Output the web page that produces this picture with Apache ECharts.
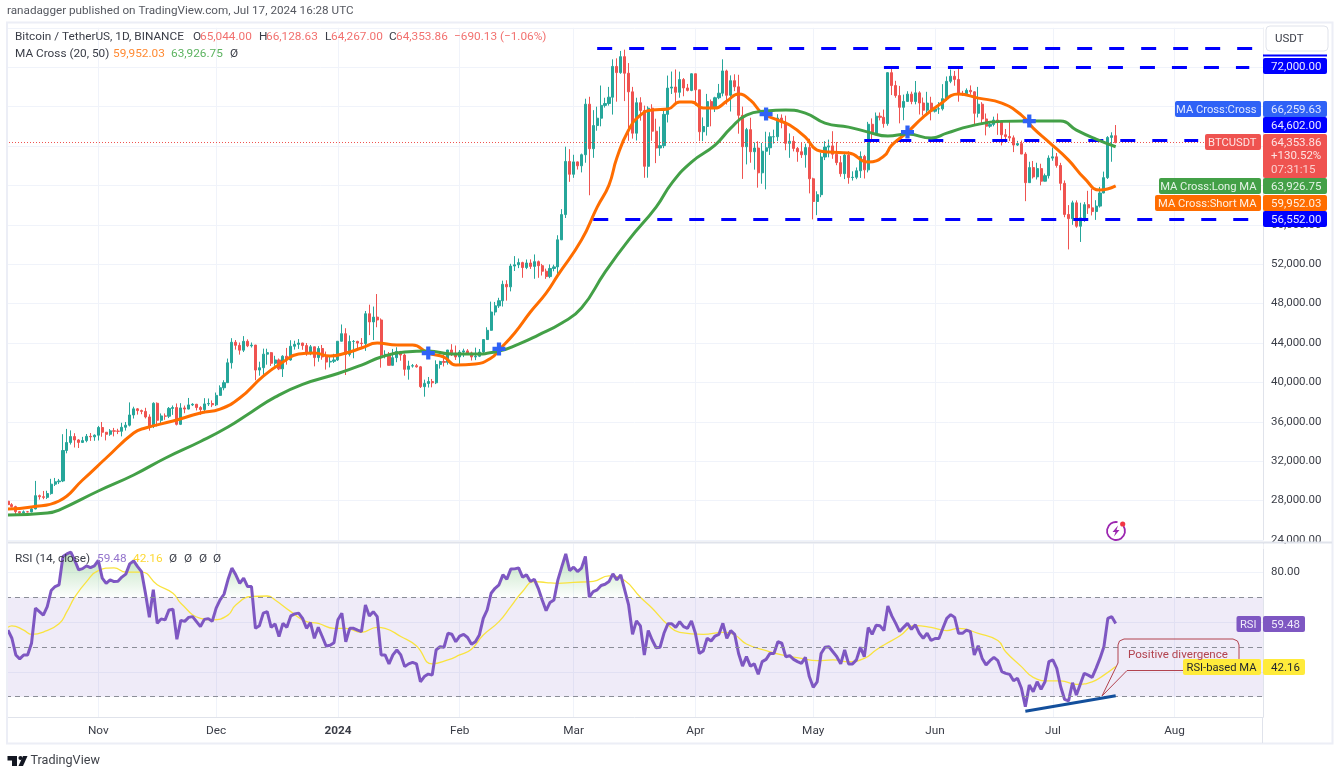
<!DOCTYPE html>
<html lang="en">
<head>
<meta charset="UTF-8">
<title>Bitcoin / TetherUS, 1D, BINANCE</title>
<script src="https://cdn.jsdelivr.net/npm/echarts@6/dist/echarts.min.js"></script>
<style>
html, body { margin: 0; padding: 0; background: #fff; }
#chart { width: 1341px; height: 774px; }
</style>
</head>
<body>
<div id="chart"></div>
<script>
// month labels on the time axis
var monthTicks = {
    '2023-11-01': 'Nov', '2023-12-01': 'Dec', '2024-01-01': '2024', '2024-02-01': 'Feb',
    '2024-03-01': 'Mar', '2024-04-01': 'Apr', '2024-05-01': 'May', '2024-06-01': 'Jun',
    '2024-07-01': 'Jul', '2024-08-01': 'Aug'
};

// daily candles, 2023-10-09 to 2024-07-17
var candleOpen = [
    27935, 27590, 27390, 26875, 26759, 26862, 26852, 27154, 28500, 28395, 28328, 28713, 29669, 29909, 29992, 33086, 33901, 34502, 34156, 33909, 34089, 34525, 34474,
    34639, 35421, 34941, 34732, 35082, 35049, 35037, 35443, 35655, 36693, 37313, 37138, 37054, 36491, 35548, 37880, 36154, 36596, 36568, 37359, 37448, 35741, 37408, 37294, 37713, 37780, 37447, 37242, 37818, 37854,
    37723, 38682, 39457, 39972, 41991, 44073, 43762, 43273, 44171, 43713, 43789, 41253, 41492, 42869, 43022, 41941, 42278, 41374, 42657, 42275, 43668, 43861, 43997, 43739, 43016, 43613, 42520, 43442, 42581, 42066, 42140,
    42283, 44179, 44946, 42845, 44151, 44162, 43989, 43943, 46970, 46139, 46627, 46339, 42782, 42847, 41732, 42511, 43137, 42776, 41327, 41659, 41696, 41580, 39568, 39897, 40084, 39961, 41816, 42120, 42035, 43288, 42952,
    42582, 43082, 43200, 42990, 42583, 42658, 43084, 44349, 45288, 47147, 47771, 48293, 49958, 49699, 51811, 51938, 52160, 51663, 52122, 51779, 52258, 51849, 51287, 50744, 51568, 51728, 54476, 57037, 62432,
    61130, 62387, 61987, 63113, 68245, 63724, 66074, 66823, 68124, 68313, 68955, 72078, 71452, 73072, 71388, 69499, 65300, 68393, 67609, 61937, 67840, 65501, 63796, 64037, 67211, 69880, 69988, 69455, 70744, 69892, 69645,
    71333, 69702, 65446, 65980, 68508, 67837, 68896, 69360, 71620, 69146, 70631, 70006, 67116, 63924, 65661, 63419, 63793, 61277, 63470, 63818, 64941, 64941, 66837, 66407, 64276, 64481, 63755, 63419, 63113, 63841,
    60672, 58364, 59060, 62882, 63892, 64012, 63165, 62312, 61193, 63074, 60799, 60825, 61483, 62940, 61577, 66206, 65235, 67024, 66915, 66274, 71446, 70136, 69122, 67929, 68526, 69265, 68518, 69394, 68366, 67635, 68354,
    67530, 67760, 67773, 68804, 70567, 71082, 70757, 69342, 69305, 69648, 69500, 67321, 68243, 66747, 66011, 66191, 66639, 66490, 65140, 64960, 64828, 64096, 64245, 63180, 60277, 61806, 60864, 61706, 60427, 60986,
    62772, 62900, 62023, 60208, 57050, 56628, 58230, 55857, 56700, 58047, 57719, 57344, 57899, 59231, 60787, 64870, 65044
];
var candleClose = [
    27590, 27390, 26875, 26759, 26862, 26852, 27154, 28500, 28395, 28328, 28713, 29669, 29909, 29992, 33086, 33901, 34502, 34156, 33909, 34089, 34525, 34474, 34639,
    35421, 34941, 34732, 35082, 35049, 35037, 35443, 35655, 36693, 37313, 37138, 37054, 36491, 35548, 37880, 36154, 36596, 36568, 37359, 37448, 35741, 37408, 37294, 37713, 37780, 37447, 37242, 37818, 37854, 37723,
    38682, 39457, 39972, 41991, 44073, 43762, 43273, 44171, 43713, 43789, 41253, 41492, 42869, 43022, 41941, 42278, 41374, 42657, 42275, 43668, 43861, 43997, 43739, 43016, 43613, 42520, 43442, 42581, 42066, 42140, 42283,
    44179, 44946, 42845, 44151, 44162, 43989, 43943, 46970, 46139, 46627, 46339, 42782, 42847, 41732, 42511, 43137, 42776, 41327, 41659, 41696, 41580, 39568, 39897, 40084, 39961, 41816, 42120, 42035, 43288, 42952, 42582,
    43082, 43200, 42990, 42583, 42658, 43084, 44349, 45288, 47147, 47771, 48293, 49958, 49699, 51811, 51938, 52160, 51663, 52122, 51779, 52258, 51849, 51287, 50744, 51568, 51728, 54476, 57037, 62432, 61130,
    62387, 61987, 63113, 68245, 63724, 66074, 66823, 68124, 68313, 68955, 72078, 71452, 73072, 71388, 69499, 65300, 68393, 67609, 61937, 67840, 65501, 63796, 64037, 67211, 69880, 69988, 69455, 70744, 69892, 69645, 71333,
    69702, 65446, 65980, 68508, 67837, 68896, 69360, 71620, 69146, 70631, 70006, 67116, 63924, 65661, 63419, 63793, 61277, 63470, 63818, 64941, 64941, 66837, 66407, 64276, 64481, 63755, 63419, 63113, 63841, 60672,
    58364, 59060, 62882, 63892, 64012, 63165, 62312, 61193, 63074, 60799, 60825, 61483, 62940, 61577, 66206, 65235, 67024, 66915, 66274, 71446, 70136, 69122, 67929, 68526, 69265, 68518, 69394, 68366, 67635, 68354, 67530,
    67760, 67773, 68804, 70567, 71082, 70757, 69342, 69305, 69648, 69500, 67321, 68243, 66747, 66011, 66191, 66639, 66490, 65140, 64960, 64828, 64096, 64245, 63180, 60277, 61806, 60864, 61706, 60427, 60986, 62772,
    62900, 62023, 60208, 57050, 56628, 58230, 55857, 56700, 58047, 57719, 57344, 57899, 59231, 60787, 64870, 65044, 64353.86
];
var candleHigh = [
    27990, 27740, 27480, 26950, 27000, 26950, 27290, 30000, 28610, 28980, 29000, 30210, 30300, 30200, 34740, 35280, 35130, 34840, 34240, 34470, 34760, 34860, 34720,
    35580, 35980, 34940, 35260, 35380, 35290, 35900, 35980, 37970, 37530, 37400, 37240, 37420, 36760, 37980, 37970, 36850, 36850, 37500, 37660, 37860, 37890, 37650, 38420, 37890, 37820, 37590, 38400, 38370, 38170,
    38970, 39700, 40220, 42420, 44490, 44300, 44050, 44700, 44370, 44050, 43810, 42100, 43430, 43420, 43090, 42700, 42430, 42760, 43500, 44280, 44230, 44400, 44020, 44000, 43800, 43620, 43680, 43800, 43130, 42610, 42900,
    44190, 45880, 45500, 44770, 44300, 44230, 44500, 47250, 47890, 47700, 48970, 46500, 43260, 43080, 43400, 43570, 43200, 42930, 42200, 41870, 41870, 41670, 40280, 40550, 40350, 42240, 42200, 42840, 43300, 43880, 43740,
    43290, 43420, 43380, 43120, 43530, 43390, 44370, 45600, 48200, 48170, 48590, 50330, 50370, 52040, 52820, 52580, 52250, 52480, 52490, 52990, 52370, 52030, 51550, 51980, 51950, 54940, 57590, 63930, 63680,
    63110, 62430, 63230, 68800, 69000, 67640, 67990, 70140, 68900, 70000, 72800, 72900, 73650, 73780, 72420, 70000, 68900, 68950, 68100, 68030, 68240, 66770, 65970, 67620, 71150, 71560, 71770, 71550, 70900, 70300, 71370,
    71340, 69700, 66900, 69290, 68720, 69000, 70300, 72800, 71750, 71170, 71280, 71230, 68000, 65840, 66870, 64360, 64480, 64300, 65450, 65390, 65660, 67230, 67210, 67080, 65280, 65000, 63900, 64350, 64230, 64730,
    60780, 59400, 63320, 64490, 64650, 65500, 64400, 62990, 63400, 63470, 61430, 61820, 63450, 63100, 66450, 66800, 67400, 67400, 67700, 71500, 71980, 70620, 70100, 69220, 69560, 69520, 70600, 69560, 68920, 69500, 69000,
    67860, 68450, 70280, 71060, 71760, 71620, 71970, 69600, 69850, 70150, 69560, 70000, 68450, 67300, 66450, 66980, 67300, 66500, 65730, 66480, 65070, 64520, 64550, 63370, 62400, 62480, 62300, 62200, 61200, 63050,
    63850, 63290, 62290, 60500, 58000, 58450, 58480, 58240, 58300, 59450, 59650, 58500, 59850, 61400, 65000, 65390, 66128.63
];
var candleLow = [
    27260, 27300, 26560, 26560, 26650, 26810, 26810, 27115, 28100, 28140, 28170, 28600, 29480, 29680, 29880, 32800, 33690, 33390, 33340, 33850, 33920, 34060, 34070,
    34100, 34480, 34110, 34580, 34520, 34750, 34520, 35110, 35530, 36330, 36730, 36770, 36340, 35100, 35360, 35530, 35880, 36200, 36380, 36700, 35630, 35670, 36870, 37260, 37600, 37150, 36710, 36870, 37610, 37490,
    37600, 38650, 39200, 39980, 41400, 43330, 42820, 43080, 43580, 43540, 40220, 40680, 40650, 41800, 41670, 41690, 41250, 40550, 41800, 42200, 43330, 43400, 43310, 42700, 42760, 41630, 42100, 42300, 41300, 41520, 41970,
    42180, 44150, 40750, 42630, 42450, 43440, 43620, 43200, 44800, 44300, 45600, 41500, 42440, 41720, 41720, 42050, 42200, 40680, 40280, 41500, 41500, 39430, 38550, 39480, 39500, 39830, 41400, 41620, 41800, 42680, 42280,
    41880, 42570, 42880, 42220, 42260, 42570, 42790, 44330, 45250, 46800, 47560, 47700, 48300, 49240, 51310, 51600, 50620, 51500, 51520, 50520, 50620, 50850, 50510, 50580, 51280, 50900, 54450, 56690, 60360,
    60770, 61610, 61320, 62300, 59000, 62800, 65550, 66000, 67900, 68100, 67190, 68500, 71330, 68560, 64530, 64750, 64560, 66570, 60770, 60780, 64530, 62260, 63000, 63780, 66390, 69280, 68370, 68900, 69050, 69540, 69560,
    68100, 64500, 64500, 65060, 66000, 67450, 68750, 69040, 68210, 67500, 69570, 65250, 60660, 62130, 62300, 61600, 59770, 60170, 59600, 63090, 64240, 64500, 65800, 63570, 62800, 63450, 62400, 62790, 61800, 59190,
    56550, 56980, 58800, 62570, 62850, 62700, 62050, 60880, 60640, 60170, 60490, 60630, 60760, 60700, 61320, 64600, 65100, 66600, 65860, 66060, 69170, 68900, 66300, 66620, 68500, 68240, 68230, 67200, 67100, 67120, 66600,
    67400, 67260, 67600, 68580, 70380, 70120, 68500, 69100, 69150, 69220, 66050, 66900, 66300, 65080, 65850, 66000, 65130, 64060, 64680, 64500, 63380, 64000, 63200, 58400, 60260, 60700, 60600, 60000, 60400, 60700,
    62500, 61800, 59500, 56770, 53500, 56000, 55700, 54260, 56300, 57100, 56950, 56500, 57750, 59200, 60650, 62400, 64267
];

// moving averages: day number (0 = 2023-10-09) and price
var shortMaDays = [0, 6, 13, 19, 25, 32, 35, 42, 49, 54, 59, 65, 70, 74, 78, 82, 86, 90, 94, 99, 103, 107, 111, 114, 119, 123, 125, 129, 133, 137, 140, 146, 150, 153, 155, 158, 161, 164, 168, 171, 174, 177, 180, 183, 186, 189, 192, 196, 199, 203, 206, 209, 214, 219, 223, 225, 229, 233, 237, 242, 247, 253, 258, 261, 265, 270, 274, 278, 282];
var shortMaValues = [27147, 27350, 27958, 30090, 32323, 34860, 35368, 36078, 36890, 37296, 38413, 40646, 42067, 42879, 42980, 42676, 42980, 43488, 43995, 43792, 43792, 42980, 42574, 41762, 41864, 42473, 43285, 45010, 47142, 49070, 50897, 54450, 57800, 60032, 62773, 65615, 67137, 67645, 67746, 68457, 68457, 67848, 67848, 68558, 69269, 68660, 67340, 66630, 66122, 64904, 63585, 63382, 63280, 62367, 62976, 64092, 65412, 66934, 68152, 69269, 68863, 68355, 67137, 65818, 64397, 62570, 60743, 59525, 59952.03];
var longMaDays = [0, 10, 13, 23, 32, 40, 49, 56, 62, 68, 75, 84, 90, 95, 101, 107, 113, 118, 125, 130, 135, 141, 146, 152, 158, 165, 169, 174, 180, 184, 188, 193, 198, 203, 208, 214, 219, 224, 229, 235, 239, 245, 253, 259, 268, 272, 277, 282];
var longMaValues = [26537, 26740, 27045, 28973, 30600, 32300, 34000, 35469, 37000, 38500, 39800, 40900, 41762, 42574, 43082, 43183, 42879, 42879, 43183, 43894, 44807, 46025, 47548, 51202, 54450, 57800, 60235, 62367, 64092, 65818, 67137, 67543, 67645, 67340, 66325, 65919, 65412, 65006, 65209, 64803, 65310, 66021, 66500, 66528, 66528, 65615, 64701, 63926.75];
var crossDays = [107, 125, 193, 229, 260];
var crossValues = [42980, 43400, 67240, 65412, 66528];

// drawn horizontal levels
var levelValues = [73938, 72000, 64602, 56552];
var levelStartDays = [150, 223, 218, 149];
var levelEndDays = [318, 316, 303, 317];
var lastPrice = 64353.86;

// RSI (14), one value per candle
var rsiValues = [
    56.8, 53.5, 46.8, 45.2, 46.8, 46.8, 51.5, 65.6, 64.2, 62.8, 66.2, 72.7, 74.3, 75.0, 86.4, 87.4, 88.1, 84.8, 81.0, 81.5, 82.6, 81.9, 82.6, 84.8, 77.7, 75.6, 77.0, 76.3, 76.4, 78.1, 79.3, 83.4, 84.6, 82.3, 80.3, 71.6, 61.9, 73.0, 59.5, 61.3, 60.9, 64.9, 65.2, 53.1, 60.7, 60.3, 61.9, 62.2, 60.2, 58.2, 61.1, 61.4, 60.3, 65.6, 68.9, 71.2, 77.0, 81.7, 79.0, 75.6, 77.7, 74.3, 74.3, 57.5, 58.5, 63.6, 64.2, 57.9, 59.3, 54.2, 59.5, 57.9, 62.5, 63.3, 63.6, 61.5, 57.5, 59.8, 53.5, 57.9, 54.2, 50.4, 50.7, 51.7, 60.9, 63.6, 52.1, 57.5, 57.5, 56.8, 56.2, 66.9, 62.5, 64.2, 62.2, 46.8, 46.8, 43.2, 46.8, 48.8, 46.8, 42.1, 43.2, 43.8, 43.2, 36.0, 38.1, 39.1, 38.7, 48.8, 50.1, 49.9, 55.5,
    55.1, 52.1, 54.4, 55.1, 53.8, 51.1, 52.1, 54.8, 61.5, 64.9, 71.6, 73.6, 75.0, 79.0, 77.2, 81.3, 81.4, 81.8, 78.1, 79.0, 76.3, 77.2, 73.6, 68.9, 64.6, 67.9, 68.9, 77.0, 82.3, 87.4, 80.7, 82.1, 80.3, 81.7, 86.4, 70.0, 72.3, 73.0, 74.7, 75.2, 76.3, 79.4, 77.0, 79.0, 73.0, 66.9, 55.1, 60.5, 58.5, 46.8, 56.6, 52.8, 49.7, 49.9, 55.5, 59.3, 59.3, 57.9, 60.2, 58.2, 57.5, 60.5, 55.5, 47.4, 48.4, 53.5, 52.4, 54.4, 55.1, 59.5, 53.5, 56.6, 55.1, 47.4, 42.3, 46.1, 42.3, 43.2, 39.0, 44.1, 45.0, 47.4, 47.4, 52.1, 51.5, 46.1, 46.5, 45.0, 44.1, 43.4, 45.8, 38.1, 33.8, 36.0, 47.4, 49.9, 50.1, 48.1, 46.1, 43.2, 48.8, 43.2, 43.2, 44.8, 49.9, 46.1, 57.8, 55.1, 58.7, 58.5, 56.6, 66.5, 62.5, 59.5, 56.2,
    57.9, 59.5, 57.1, 58.9, 55.5, 53.5, 55.5, 52.6, 53.4, 53.4, 57.5, 61.5, 63.0, 61.9, 55.5, 55.5, 56.8, 56.2, 46.8, 50.5, 45.4, 42.8, 44.5, 45.8, 44.5, 40.1, 39.4, 39.0, 36.4, 37.4, 33.4, 26.0, 34.7, 32.0, 36.0, 33.0, 36.0, 44.1, 44.8, 41.4, 34.0, 28.9, 28.3, 35.6, 30.7, 35.1, 39.4, 38.7, 37.8, 41.4, 45.4, 50.1, 61.5, 62.2, 59.48
];
var rsiMaDays = [0, 1, 4, 6, 9, 13, 15, 17, 20, 23, 27, 30, 34, 38, 42, 44, 49, 52, 56, 58, 62, 66, 68, 72, 76, 79, 83, 86, 90, 94, 96, 100, 104, 108, 112, 115, 118, 121, 125, 128, 131, 134, 137, 140, 144, 149, 153, 157, 161, 164, 168, 171, 177, 182, 185, 188, 193, 197, 202, 206, 210, 214, 218, 221, 223, 227, 231, 235, 239, 242, 247, 252, 254, 258, 261, 265, 268, 272, 276, 279, 282];
var rsiMaValues = [57.9, 58.5, 56.8, 55.1, 56.0, 59.3, 64.2, 70.0, 76.3, 80.7, 81.8, 80.1, 80.1, 75.0, 71.6, 67.6, 61.5, 60.9, 62.8, 66.9, 70.3, 70.5, 68.9, 64.2, 60.2, 59.5, 57.5, 57.5, 55.9, 57.9, 57.5, 54.2, 50.4, 43.2, 44.8, 46.8, 49.1, 54.8, 60.2, 66.2, 72.3, 76.3, 75.9, 75.6, 76.0, 76.4, 78.6, 76.7, 70.0, 65.6, 58.9, 55.9, 55.1, 55.9, 54.8, 51.2, 48.5, 46.8, 45.4, 44.5, 44.8, 44.1, 45.4, 48.8, 50.8, 54.4, 58.6, 57.9, 56.6, 57.5, 55.5, 52.6, 48.1, 42.1, 37.8, 36.4, 36.4, 35.0, 36.0, 38.7, 42.16];
var rsiGuideValues = [70, 50, 30];
var rsiTickValues = [40, 60, 80];
var divergenceDays = [259, 282];
var divergenceValues = [24.2, 30.4];

// one category per calendar day, up to the empty space on the right
var dates = [];
var day = new Date(Date.UTC(2023, 9, 9));
for (var n = 0; n < 320; n++) {
    dates.push(day.toISOString().slice(0, 10));
    day.setUTCDate(day.getUTCDate() + 1);
}

var FONT = 'Roboto, sans-serif';
var TEXT = '#3a3d47';
var GRID = '#f0f3fa';
var BORDER = '#e0e3eb';
var UP = '#26a69a';
var DOWN = '#ef5350';

var candles = candleOpen.map(function (o, i) {
    return [o, candleClose[i], candleLow[i], candleHigh[i]];
});

function pairs(days, values) {
    return days.map(function (d, i) { return [d, values[i]]; });
}

function isMonthStart(index, value) {
    return monthTicks[value] !== undefined;
}

// horizontal level segments and the dotted last price line
var priceMarks = levelValues.map(function (v, i) {
    return [
        {xAxis: levelStartDays[i], yAxis: v},
        {xAxis: levelEndDays[i], yAxis: v, lineStyle: {color: '#0000ff', width: 3, type: [15, 17]}}
    ];
});
priceMarks.push({yAxis: lastPrice, lineStyle: {color: DOWN, width: 1, type: [1, 2]}});

var rsiMarks = rsiGuideValues.map(function (v) {
    return {yAxis: v, lineStyle: {color: '#8b8e98', width: 1, type: [5, 4]}};
});
rsiMarks.push([
    {xAxis: divergenceDays[0], yAxis: divergenceValues[0]},
    {xAxis: divergenceDays[1], yAxis: divergenceValues[1], lineStyle: {color: '#134f9c', width: 3, type: 'solid'}}
]);

// helpers for the overlay texts and price tags
function label(x, y, text, color, size, extra) {
    return {
        type: 'text', z: 60, x: x, y: y + 0.7,
        style: Object.assign({
            text: text, fill: color, fontFamily: FONT, fontSize: size || 11.8,
            verticalAlign: 'middle'
        }, extra || {})
    };
}
function box(x, y, w, h, color, r) {
    return {type: 'rect', z: 58, shape: {x: x, y: y, width: w, height: h, r: r === undefined ? 2 : r}, style: {fill: color}};
}
// left name box plus value box on the axis
function tag(name, nameX, y, h, value, color, textColor, valueWidth) {
    var out = [];
    if (name) {
        out.push(box(nameX, y, 1261 - nameX, h, color));
        out.push(label(1256.5, y + h / 2 + 0.5, name, textColor, 11.2, {align: 'right'}));
    }
    out.push(box(1263, y, valueWidth || 64, h, color));
    out.push(label(1271, y + h / 2 + 0.5, value, textColor, 11.5));
    return out;
}

var overlay = [
    // outer frame and covers
    {type: 'rect', z: 40, shape: {x: 0, y: 0, width: 7, height: 774}, style: {fill: '#fff'}},
    {type: 'rect', z: 40, shape: {x: 1263.5, y: 544, width: 67, height: 5}, style: {fill: '#fff'}},
    {type: 'rect', z: 40, shape: {x: 1263.5, y: 15, width: 67, height: 39}, style: {fill: '#fff'}},
    {type: 'rect', z: 41, shape: {x: 7, y: 22.5, width: 1325.5, height: 721}, style: {fill: 'none', stroke: '#eceef6', lineWidth: 2}},
    {type: 'line', z: 41, shape: {x1: 8, y1: 542.5, x2: 1332, y2: 542.5}, style: {stroke: BORDER, lineWidth: 2}},
    {type: 'line', z: 41, shape: {x1: 1262.5, y1: 717, x2: 1262.5, y2: 743}, style: {stroke: BORDER, lineWidth: 1}},
    // header
    label(7, 10, 'ranadagger published on TradingView.com, Jul 17, 2024 16:28 UTC', '#555860', 11.7),
    label(15, 36, 'Bitcoin / TetherUS, 1D, BINANCE', TEXT),
    label(193, 36, 'O', TEXT), label(200, 36, '65,044.00', '#f2716f'),
    label(259, 36, 'H', TEXT), label(266, 36, '66,128.63', '#f2716f'),
    label(325, 36, 'L', TEXT), label(331, 36, '64,267.00', '#f2716f'),
    label(389, 36, 'C', TEXT), label(396, 36, '64,353.86', '#f2716f'),
    label(454, 36, '\u2212690.13 (\u22121.06%)', '#f2716f'),
    label(15, 53, 'MA Cross (20, 50)', TEXT),
    label(113, 53, '59,952.03', '#ff8a33'),
    label(171, 53, '63,926.75', '#5cb360'),
    label(230, 53, '\u00d8', TEXT),
    label(15, 558, 'RSI (14, close)', TEXT),
    label(97, 558, '59.48', '#9575cd'),
    label(133, 558, '42.16', '#fdd835'),
    label(169, 558, '\u00d8', TEXT), label(184, 558, '\u00d8', TEXT),
    label(199, 558, '\u00d8', TEXT), label(213, 558, '\u00d8', TEXT),
    // USDT button
    {type: 'rect', z: 58, shape: {x: 1266, y: 26, width: 62, height: 25, r: 4}, style: {fill: '#fff', stroke: BORDER, lineWidth: 1}},
    label(1275, 38.5, 'USDT', TEXT, 11.5),
    {type: 'rect', z: 57, shape: {x: 1263, y: 54.5, width: 64, height: 2}, style: {fill: '#0000ff'}},
    // callout
    {type: 'polyline', z: 55, shape: {points: [[1118, 663], [1118, 645], [1119.5, 641], [1124, 639], [1233, 639], [1237.5, 641], [1239, 645], [1239, 664], [1237.5, 668.5], [1233, 670.5], [1127, 670.5], [1102, 696], [1118, 663]]},
        style: {fill: 'none', stroke: '#b2434f', lineWidth: 1}},
    label(1128, 654, 'Positive divergence', '#b2434f', 11.6),
    // signal icon
    {type: 'arc', z: 50, shape: {cx: 1116, cy: 531, r: 9, startAngle: -0.6, endAngle: -1.4, clockwise: true}, style: {fill: 'none', stroke: '#9c27b0', lineWidth: 1.8}},
    {type: 'polygon', z: 51, shape: {points: [[1118, 525.5], [1112.5, 532], [1115.5, 532], [1114, 536.5], [1119.5, 530], [1116.5, 530]]}, style: {fill: '#9c27b0'}},
    {type: 'circle', z: 51, shape: {cx: 1122.7, cy: 524, r: 2.6}, style: {fill: '#f23645'}},
    // footer logo
    {type: 'polygon', z: 60, shape: {points: [[7.5, 756], [17, 756], [17, 766], [12, 766], [12, 760.5], [7.5, 760.5]]}, style: {fill: '#131722'}},
    {type: 'circle', z: 60, shape: {cx: 20.5, cy: 758, r: 2.1}, style: {fill: '#131722'}},
    {type: 'polygon', z: 60, shape: {points: [[18.5, 766], [23, 756], [27.5, 756], [23, 766]]}, style: {fill: '#131722'}},
    label(30.5, 760.5, 'TradingView', '#3f4249', 12.6)
]
    .concat(tag(null, 0, 58, 16, '72,000.00', '#0000ff', '#e8e8ff'))
    .concat(tag('MA Cross:Cross', 1175, 101, 16, '66,259.63', '#2f62f6', '#dfe7ff'))
    .concat(tag(null, 0, 117, 16, '64,602.00', '#0000ff', '#e8e8ff'))
    .concat([box(1205, 134, 56, 16, DOWN), label(1256.5, 142, 'BTCUSDT', '#fde4e3', 11.2, {align: 'right'})])
    .concat([
        box(1263, 134, 64, 44, DOWN),
        label(1271, 142, '64,353.86', '#fde4e3', 11.5),
        label(1271, 155.5, '+130.52%', '#fde4e3', 11.5),
        label(1271, 169, '07:31:15', '#fbd0cf', 11.5)
    ])
    .concat(tag('MA Cross:Long MA', 1159, 178, 16, '63,926.75', '#43a047', '#e6f4e7'))
    .concat(tag('MA Cross:Short MA', 1155, 195, 16, '59,952.03', '#ff6d00', '#fff0e3'))
    .concat(tag(null, 0, 211, 16, '56,552.00', '#0000ff', '#e8e8ff'))
    .concat(tag('RSI', 1236.5, 616, 16, '59.48', '#7e57c2', '#efeaf9', 42))
    .concat(tag('RSI-based MA', 1183, 659, 16, '42.16', '#ffeb3b', '#1f2430', 42));

var option = {
    animation: false,
    backgroundColor: '#fff',
    textStyle: {fontFamily: FONT},
    grid: [
        {left: 6, width: 1257, top: 27.8, height: 512.2},
        {left: 6, width: 1257, top: 543.5, height: 173.5}
    ],
    xAxis: [
        {
            type: 'category', gridIndex: 0, data: dates,
            axisLine: {show: false}, axisTick: {show: false}, axisLabel: {show: false},
            splitLine: {show: true, interval: isMonthStart, alignWithLabel: true, lineStyle: {color: GRID, width: 1}}
        },
        {
            type: 'category', gridIndex: 1, data: dates,
            axisLine: {lineStyle: {color: BORDER, width: 1}}, axisTick: {show: false},
            axisLabel: {
                interval: isMonthStart, margin: 8, fontSize: 11.8, color: TEXT, fontFamily: FONT,
                formatter: function (v) {
                    return monthTicks[v] === '2024' ? '{year|2024}' : (monthTicks[v] || '');
                },
                rich: {year: {fontWeight: 'bold', fontSize: 11.8, color: TEXT, fontFamily: FONT}}
            },
            splitLine: {show: true, interval: isMonthStart, alignWithLabel: true, lineStyle: {color: GRID, width: 1}}
        }
    ],
    yAxis: [
        {
            type: 'value', gridIndex: 0, position: 'right', min: 24000, max: 76000, interval: 4000,
            axisLine: {show: true, lineStyle: {color: BORDER}}, axisTick: {show: false},
            axisLabel: {
                margin: 8, fontSize: 11.5, color: TEXT, fontFamily: FONT, padding: [2, 0, 0, 0],
                formatter: function (v) {
                    return v.toLocaleString('en-US', {minimumFractionDigits: 2});
                }
            },
            splitLine: {lineStyle: {color: GRID, width: 1}}
        },
        {
            type: 'value', gridIndex: 1, position: 'right', min: 21.85, max: 91.6,
            axisLine: {show: true, lineStyle: {color: BORDER}},
            axisTick: {show: false, customValues: rsiTickValues},
            axisLabel: {
                margin: 8, fontSize: 11.5, color: TEXT, fontFamily: FONT, padding: [2, 0, 0, 0], customValues: rsiTickValues,
                formatter: function (v) { return v.toFixed(2); }
            },
            splitLine: {lineStyle: {color: GRID, width: 1}}
        }
    ],
    series: [
        {
            name: 'BTCUSDT', type: 'candlestick', xAxisIndex: 0, yAxisIndex: 0, data: candles, barWidth: 2.6,
            itemStyle: {color: UP, color0: DOWN, borderColor: UP, borderColor0: DOWN, borderWidth: 1},
            markLine: {silent: true, symbol: 'none', label: {show: false}, data: priceMarks, z: 3}
        },
        {
            name: 'Short MA', type: 'line', xAxisIndex: 0, yAxisIndex: 0, data: pairs(shortMaDays, shortMaValues),
            showSymbol: false, smooth: 0.5, z: 4, lineStyle: {color: '#ff6d00', width: 3}
        },
        {
            name: 'Long MA', type: 'line', xAxisIndex: 0, yAxisIndex: 0, data: pairs(longMaDays, longMaValues),
            showSymbol: false, smooth: 0.5, z: 4, lineStyle: {color: '#43a047', width: 3}
        },
        {
            name: 'Cross', type: 'scatter', xAxisIndex: 0, yAxisIndex: 0, data: pairs(crossDays, crossValues),
            symbol: 'path://M2.7 0h2.6v2.7H8v2.6H5.3V8H2.7V5.3H0V2.7h2.7z', symbolSize: 13, z: 6,
            itemStyle: {color: '#2f62f6', opacity: 1}
        },
        {
            name: 'RSI overbought', type: 'line', xAxisIndex: 1, yAxisIndex: 1,
            data: rsiValues.map(function (v) { return Math.max(v, 70); }),
            showSymbol: false, lineStyle: {width: 0}, z: 2,
            areaStyle: {
                origin: 70,
                color: new echarts.graphic.LinearGradient(0, 556, 0, 597, [
                    {offset: 0, color: 'rgba(76,175,80,0.5)'},
                    {offset: 1, color: 'rgba(76,175,80,0.02)'}
                ], true)
            }
        },
        {
            name: 'RSI', type: 'line', xAxisIndex: 1, yAxisIndex: 1, data: rsiValues,
            showSymbol: false, z: 4, lineStyle: {color: '#7e57c2', width: 3},
            markArea: {silent: true, data: [[{yAxis: 70}, {yAxis: 30}]], itemStyle: {color: 'rgba(126,87,194,0.12)'}},
            markLine: {silent: true, symbol: 'none', label: {show: false}, data: rsiMarks}
        },
        {
            name: 'RSI MA', type: 'line', xAxisIndex: 1, yAxisIndex: 1, data: pairs(rsiMaDays, rsiMaValues),
            showSymbol: false, smooth: 0.5, z: 3, lineStyle: {color: '#f9e33f', width: 1.3}
        }
    ],
    graphic: {elements: overlay}
};

var myChart = echarts.init(document.getElementById('chart'));
myChart.setOption(option);
</script>
</body>
</html>
